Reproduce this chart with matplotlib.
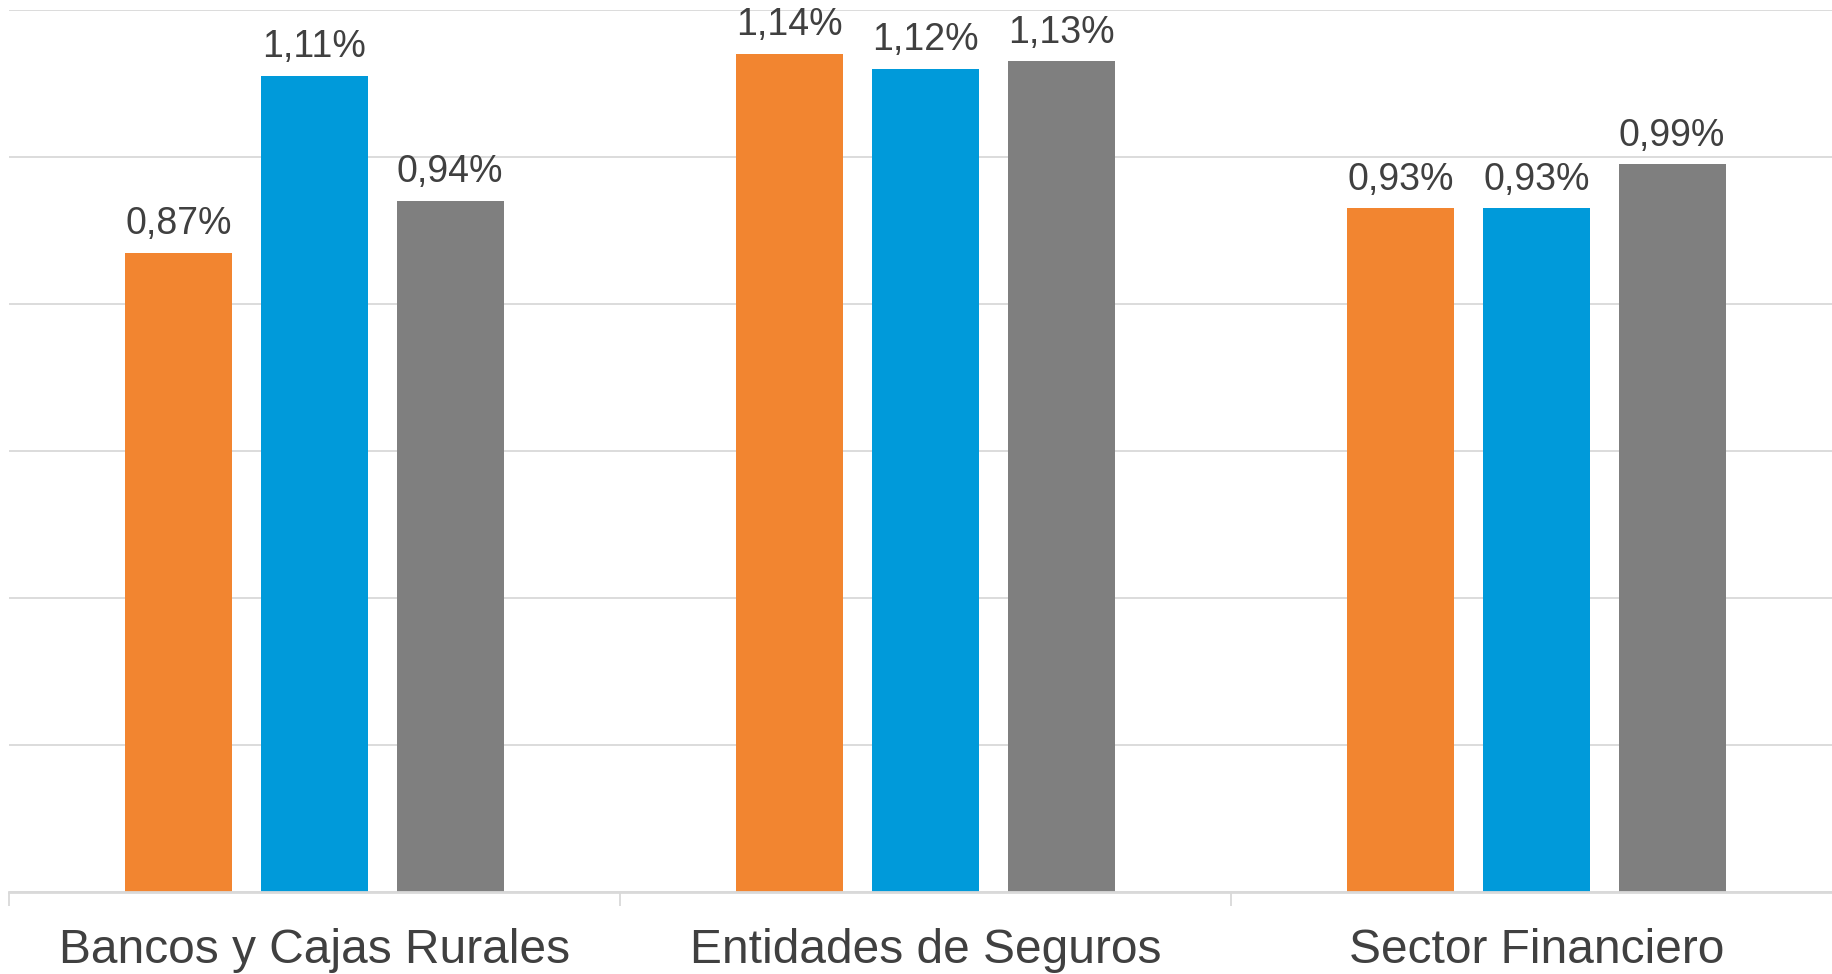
import numpy as np
import matplotlib
matplotlib.use("Agg")
import matplotlib.pyplot as plt

plt.rcParams['font.family'] = ['Liberation Sans', 'DejaVu Sans']

# datos (en %)
categorias = ['Bancos y Cajas Rurales', 'Entidades de Seguros', 'Sector Financiero']
serie_naranja = [0.87, 1.14, 0.93]
serie_azul = [1.11, 1.12, 0.93]
serie_gris = [0.94, 1.13, 0.99]

colores = ['#F28530', '#009ADA', '#7F7F7F']
gris_texto = '#404040'
gris_linea = '#D9D9D9'

fig = plt.figure(figsize=(18.33, 9.74), dpi=100)
ax = fig.add_axes([9 / 1833, 82 / 974, 1833 / 1833, 882 / 974])

x = np.arange(len(categorias))
ancho = 0.175
sep = 0.222

for i, (vals, col) in enumerate(zip([serie_naranja, serie_azul, serie_gris], colores)):
    barras = ax.bar(x + (i - 1) * sep, vals, width=ancho, color=col, zorder=3)
    for b, v in zip(barras, vals):
        ax.annotate(f'{v:.2f}%'.replace('.', ','),
                    (b.get_x() + b.get_width() / 2, v),
                    xytext=(0, 13.5), textcoords='offset points',
                    ha='center', va='baseline', fontsize=27, color=gris_texto)

ax.set_xlim(-0.5, 2.5)
ax.set_ylim(0, 1.2)
ax.set_yticks(np.arange(0, 1.21, 0.2))
ax.yaxis.grid(True, color=gris_linea, linewidth=1.3, zorder=0)
ax.tick_params(axis='y', left=False, labelleft=False)

# marcas del eje x entre categorias
ax.set_xticks(x)
ax.set_xticklabels(categorias, fontsize=34.5, color=gris_texto)
ax.tick_params(axis='x', length=0, pad=26)
ax.set_xticks(np.arange(-0.5, 2.6, 1), minor=True)
ax.tick_params(axis='x', which='minor', length=10, width=1.3, color=gris_linea)

for lado in ['top', 'right', 'left']:
    ax.spines[lado].set_visible(False)
ax.spines['bottom'].set_color(gris_linea)
ax.spines['bottom'].set_linewidth(2)
ax.spines['bottom'].set_zorder(4)

fig.savefig('out.png', dpi=100)
